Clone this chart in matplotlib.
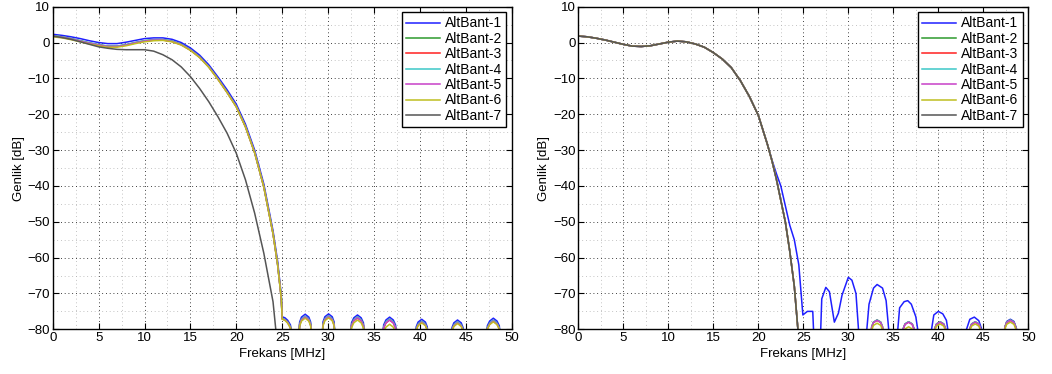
import numpy as np
import matplotlib
matplotlib.use('Agg')
import matplotlib.pyplot as plt
from matplotlib.ticker import MultipleLocator

plt.rcParams['font.family'] = ['Liberation Sans', 'DejaVu Sans']

labels = ['AltBant-1', 'AltBant-2', 'AltBant-3', 'AltBant-4', 'AltBant-5', 'AltBant-6', 'AltBant-7']
colors = ['#1f1fff', '#2e9a2e', '#ff2020', '#3cc8c8', '#c840c8', '#bfbf20', '#555555']

# ---------------- left panel ----------------
f_left_pass = [0, 1, 2, 3, 4, 5, 6, 7, 8, 9, 10, 11, 12, 13, 14, 15, 16, 17, 18, 19,
               20, 21, 22, 23, 24, 24.5, 24.9, 25.0]
f_left_stop = [25.3, 25.6, 25.9, 26.1,
               26.75, 26.9, 27.1, 27.5, 27.9, 28.1, 28.25,
               29.3, 29.45, 29.65, 30.05, 30.45, 30.65, 30.8,
               32.4, 32.55, 32.8, 33.2, 33.6, 33.85, 34.0,
               35.9, 36.05, 36.3, 36.7, 37.1, 37.35, 37.5,
               39.45, 39.6, 39.8, 40.2, 40.6, 40.8, 40.95,
               43.35, 43.5, 43.7, 44.1, 44.5, 44.7, 44.85,
               47.2, 47.35, 47.6, 48.0, 48.4, 48.65, 48.8]

left_pass_1 = [2.3, 2.0, 1.6, 1.1, 0.5, 0.0, -0.3, -0.3, 0.1, 0.6, 1.1, 1.3, 1.3, 0.9, 0.0,
               -1.5, -3.5, -6.2, -9.6, -13.2, -17.2, -22.8, -30.0, -39.5, -52.5, -61.0, -70.5, -76.5]
left_pass_2 = [1.9, 1.6, 1.1, 0.5, -0.1, -0.6, -1.0, -1.0, -0.6, 0.0, 0.5, 0.8, 0.8, 0.4, -0.5,
               -2.0, -4.0, -6.7, -10.1, -13.8, -17.8, -23.4, -30.6, -40.2, -53.2, -61.8, -71.2, -77.0]
left_pass_3 = [1.8, 1.5, 1.0, 0.4, -0.2, -0.7, -1.1, -1.1, -0.7, -0.1, 0.4, 0.7, 0.7, 0.3, -0.6,
               -2.1, -4.1, -6.8, -10.2, -13.9, -17.9, -23.5, -30.7, -40.3, -53.3, -61.9, -71.3, -77.1]
left_pass_6 = [1.6, 1.3, 0.8, 0.2, -0.4, -0.9, -1.3, -1.3, -0.9, -0.3, 0.2, 0.5, 0.6, 0.2, -0.7,
               -2.2, -4.2, -6.9, -10.3, -14.0, -18.0, -23.6, -30.8, -40.4, -53.4, -62.0, -71.4, -77.2]

left_stop_1 = [-76.8, -77.5, -78.8, -84,
               -84, -78.0, -76.6, -75.8, -76.6, -78.0, -84,
               -84, -77.9, -76.5, -75.7, -76.5, -77.9, -84,
               -84, -78.2, -76.8, -76.0, -76.8, -78.2, -84,
               -84, -78.8, -77.4, -76.6, -77.4, -78.8, -84,
               -84, -79.3, -78.0, -77.2, -78.0, -79.3, -84,
               -84, -79.5, -78.2, -77.4, -78.2, -79.5, -84,
               -84, -79.0, -77.7, -76.9, -77.7, -79.0, -84]
left_stop_2 = [-77.3, -78.0, -79.3, -84,
               -84, -78.6, -77.2, -76.4, -77.2, -78.6, -84,
               -84, -78.5, -77.1, -76.3, -77.1, -78.5, -84,
               -84, -78.8, -77.4, -76.6, -77.4, -78.8, -84,
               -84, -79.4, -78.0, -77.2, -78.0, -79.4, -84,
               -84, -79.9, -78.6, -77.8, -78.6, -79.9, -84,
               -84, -80.1, -78.8, -78.0, -78.8, -80.1, -84,
               -84, -79.6, -78.3, -77.5, -78.3, -79.6, -84]
left_stop_3 = [-77.4, -78.1, -79.5, -84,
               -84, -78.8, -77.4, -76.6, -77.4, -78.8, -84,
               -84, -78.7, -77.3, -76.5, -77.3, -78.7, -84,
               -84, -79.0, -77.6, -76.8, -77.6, -79.0, -84,
               -84, -79.6, -78.2, -77.4, -78.2, -79.6, -84,
               -84, -80.1, -78.8, -78.0, -78.8, -80.1, -84,
               -84, -80.3, -79.0, -78.2, -79.0, -80.3, -84,
               -84, -79.8, -78.5, -77.7, -78.5, -79.8, -84]
left_stop_6 = [-77.5, -78.3, -79.7, -84,
               -84, -79.1, -77.7, -76.9, -77.7, -79.1, -84,
               -84, -79.0, -77.6, -76.8, -77.6, -79.0, -84,
               -84, -79.6, -78.2, -77.4, -78.2, -79.6, -84,
               -84, -80.9, -79.4, -78.6, -79.4, -80.9, -84,
               -84, -80.3, -79.0, -78.2, -79.0, -80.3, -84,
               -84, -80.5, -79.2, -78.4, -79.2, -80.5, -84,
               -84, -80.0, -78.7, -77.9, -78.7, -80.0, -84]

f_left_7 = [0, 1, 2, 3, 4, 5, 6, 7, 8, 9, 10, 11, 12, 13, 14, 15, 16, 17, 18, 19,
            20, 21, 22, 23, 24, 24.3, 24.6]
left_7 = [1.8, 1.4, 0.9, 0.2, -0.5, -1.2, -1.6, -1.9, -2.0, -2.0, -2.0, -2.4, -3.4, -4.8, -6.8,
          -9.5, -12.8, -16.5, -20.7, -25.3, -30.9, -38.3, -47.6, -58.8, -72.3, -80.0, -95.0]

# ---------------- right panel ----------------
f_right_pass = [0, 1, 2, 3, 4, 5, 6, 7, 8, 9, 10, 11, 12, 13, 14, 15, 16, 17, 18, 19, 20, 21,
                21.5, 22, 22.5, 23, 23.5, 24, 24.4, 24.7]
right_pass = [1.8, 1.6, 1.2, 0.7, 0.1, -0.5, -1.0, -1.1, -0.9, -0.4, 0.1, 0.4, 0.2, -0.4, -1.3,
              -2.8, -4.6, -7.0, -10.6, -15.0, -20.3, -28.3, -32.8, -38.0, -44.0, -50.0, -58.3,
              -68.0, -80.0, -95.0]

f_right_stop = [32.45, 32.6, 32.8, 33.2, 33.6, 33.8, 33.95,
                35.95, 36.1, 36.3, 36.7, 37.1, 37.3, 37.45,
                39.45, 39.6, 39.8, 40.2, 40.6, 40.8, 40.95,
                43.35, 43.5, 43.7, 44.1, 44.5, 44.7, 44.85,
                47.25, 47.4, 47.6, 48.0, 48.4, 48.6, 48.75]
right_stop_2 = [-84, -79.3, -78.0, -77.4, -78.0, -79.3, -84,
                -84, -79.8, -78.5, -77.9, -78.5, -79.8, -84,
                -84, -79.8, -78.5, -77.9, -78.5, -79.8, -84,
                -84, -79.8, -78.5, -77.9, -78.5, -79.8, -84,
                -84, -79.3, -78.0, -77.4, -78.0, -79.3, -84]
right_stop_3 = [-84, -79.4, -78.1, -77.5, -78.1, -79.4, -84,
                -84, -79.9, -78.6, -78.0, -78.6, -79.9, -84,
                -84, -79.9, -78.6, -78.0, -78.6, -79.9, -84,
                -84, -79.9, -78.6, -78.0, -78.6, -79.9, -84,
                -84, -79.4, -78.1, -77.5, -78.1, -79.4, -84]
right_stop_6 = [-84, -80.2, -78.9, -78.3, -78.9, -80.2, -84,
                -84, -81.2, -79.9, -79.3, -79.9, -81.2, -84,
                -84, -80.4, -79.1, -78.5, -79.1, -80.4, -84,
                -84, -80.4, -79.1, -78.5, -79.1, -80.4, -84,
                -84, -79.9, -78.6, -78.0, -78.6, -79.9, -84]

f_right_1 = [0, 1, 2, 3, 4, 5, 6, 7, 8, 9, 10, 11, 12, 13, 14, 15, 16, 17, 18, 19, 20, 21,
             21.5, 22, 22.5, 23, 23.5, 24, 24.5, 24.95, 25.45, 26.05, 26.3,
             26.8, 27.05, 27.5, 27.9, 28.45, 28.9, 29.3, 30.0, 30.4, 30.85, 31.3,
             31.85, 32.3, 32.8, 33.2, 33.8, 34.2, 34.7,
             35.3, 35.7, 36.2, 36.6, 37.0, 37.5, 37.95,
             39.0, 39.5, 40.0, 40.5, 40.9, 41.3,
             43.0, 43.5, 44.0, 44.5, 44.95,
             47.25, 47.6, 48.0, 48.4, 48.85]
right_1 = [1.8, 1.6, 1.2, 0.7, 0.1, -0.5, -1.0, -1.1, -0.9, -0.4, 0.1, 0.4, 0.2, -0.4, -1.3,
           -2.8, -4.6, -7.0, -10.6, -15.0, -20.3, -28.3,
           -32.6, -36.5, -40.0, -45.5, -51.0, -55.0, -62.0, -76.0, -75.0, -75.0, -90,
           -90, -71.5, -68.3, -69.5, -78.0, -75.5, -70.5, -65.5, -66.3, -70.0, -86,
           -86, -73.0, -68.5, -67.5, -68.5, -72.0, -86,
           -86, -74.0, -72.3, -72.0, -73.0, -76.5, -84,
           -84, -76.0, -75.0, -75.7, -77.5, -84,
           -81, -77.2, -76.6, -77.6, -81,
           -81, -77.8, -77.2, -77.8, -81]

left_series = [
    (f_left_pass + f_left_stop, left_pass_1 + left_stop_1),
    (f_left_pass + f_left_stop, left_pass_2 + left_stop_2),
    (f_left_pass + f_left_stop, left_pass_3 + left_stop_3),
    (f_left_pass + f_left_stop, left_pass_2 + left_stop_2),
    (f_left_pass + f_left_stop, left_pass_3 + left_stop_3),
    (f_left_pass + f_left_stop, left_pass_6 + left_stop_6),
    (f_left_7, left_7),
]
right_series = [
    (f_right_1, right_1),
    (f_right_pass + f_right_stop, right_pass + right_stop_2),
    (f_right_pass + f_right_stop, right_pass + right_stop_3),
    (f_right_pass + f_right_stop, right_pass + right_stop_2),
    (f_right_pass + f_right_stop, right_pass + right_stop_3),
    (f_right_pass + f_right_stop, right_pass + right_stop_6),
    (f_right_pass, right_pass),
]


def style_axes(ax):
    ax.set_xlim(0, 50)
    ax.set_ylim(-80, 10)
    ax.xaxis.set_major_locator(MultipleLocator(5))
    ax.xaxis.set_minor_locator(MultipleLocator(2.5))
    ax.yaxis.set_major_locator(MultipleLocator(10))
    ax.yaxis.set_minor_locator(MultipleLocator(5))
    ax.grid(which='major', color='black', linestyle=(0, (1, 3.5)), linewidth=0.6)
    ax.grid(which='minor', color='#b0b0b0', linestyle=(0, (1, 3.5)), linewidth=0.6)
    ax.tick_params(which='major', direction='in', top=True, right=True, length=4,
                   width=0.8, labelsize=9.5, pad=2)
    ax.tick_params(which='minor', length=0)
    for s in ax.spines.values():
        s.set_linewidth(1.0)
    ax.set_xlabel('Frekans [MHz]', fontsize=9.5, labelpad=3)
    ax.set_ylabel('Genlik [dB]', fontsize=9.5, labelpad=2)
    leg = ax.legend(loc='upper right', fontsize=10, fancybox=False, framealpha=1,
                    edgecolor='black', handlelength=2.45, handletextpad=0.35,
                    labelspacing=0.1, borderpad=0.3, borderaxespad=0.4)
    leg.get_frame().set_linewidth(1.0)


fig = plt.figure(figsize=(10.52, 3.74), dpi=100)
ax1 = fig.add_axes([0.0501, 0.1195, 0.4363, 0.8626])
ax2 = fig.add_axes([0.5497, 0.1195, 0.4278, 0.8626])

for ax, series in [(ax1, left_series), (ax2, right_series)]:
    for (fx, fy), lab, col in zip(series, labels, colors):
        ax.plot(fx, fy, color=col, linewidth=1.1, label=lab)
    style_axes(ax)

fig.savefig('out.png', dpi=100)
